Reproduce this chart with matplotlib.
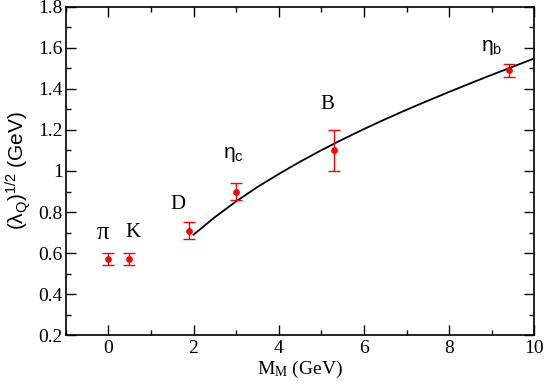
import matplotlib
matplotlib.use("Agg")
import matplotlib.pyplot as plt
from matplotlib.ticker import MultipleLocator, FuncFormatter

plt.rcParams["mathtext.fontset"] = "custom"
plt.rcParams["mathtext.rm"] = "Liberation Serif"
plt.rcParams["mathtext.it"] = "Liberation Serif:italic"
plt.rcParams["mathtext.sf"] = "Liberation Sans"
plt.rcParams["font.family"] = ["Liberation Serif", "DejaVu Sans"]

# Data
mesons = ["π", "K", "D", "ηc", "B", "ηb"]
mass = [0.0, 0.494, 1.90, 3.0, 5.30, 9.40]
lam = [0.57, 0.57, 0.71, 0.90, 1.10, 1.49]
err = [0.03, 0.03, 0.04, 0.04, 0.10, 0.03]

curve_m = [2.0, 2.5, 3.0, 3.5, 4.0, 4.5, 5.0, 5.5, 6.0, 6.5, 7.0, 7.5, 8.0, 8.5, 9.0, 9.5, 10.0]
curve_l = [0.690, 0.775, 0.852, 0.922, 0.985, 1.045, 1.101, 1.154, 1.204,
           1.252, 1.298, 1.342, 1.385, 1.427, 1.468, 1.508, 1.548]

# Label texts and positions (data coords)
lab_text = ["π", "K", "D", r"$\mathsf{η_c}$", "B", r"$\mathsf{η_b}$"]
lab_x = [-0.12, 0.58, 1.64, 2.93, 5.13, 9.0]
lab_y = [0.70, 0.70, 0.835, 1.08, 1.325, 1.60]
lab_size = [18, 15, 15, 15, 15, 15]

fig = plt.figure(figsize=(5.45, 3.82), dpi=100)
ax = fig.add_axes([0.1206, 0.1223, 0.8598, 0.8602])

ax.plot(curve_m, curve_l, color="black", lw=1.3)
ax.errorbar(mass, lam, yerr=err, fmt="o", color="#ff0000", ms=3.8,
            capsize=4.5, elinewidth=1.0, capthick=1.0)

for t, x, y, s in zip(lab_text, lab_x, lab_y, lab_size):
    ax.text(x, y, t, fontsize=s, ha="center", va="center")

ax.set_xlim(-1, 10)
ax.set_ylim(0.2, 1.8)
ax.xaxis.set_major_locator(MultipleLocator(2))
ax.xaxis.set_minor_locator(MultipleLocator(1))
ax.yaxis.set_major_locator(MultipleLocator(0.2))
ax.yaxis.set_minor_locator(MultipleLocator(0.1))
ax.yaxis.set_major_formatter(FuncFormatter(lambda v, p: f"{int(round(v))}" if abs(v - round(v)) < 1e-9 else f"{v:.1f}"))
ax.tick_params(which="both", direction="in", top=True, right=True)
ax.tick_params(which="major", length=7, width=1, labelsize=14)
ax.tick_params(which="minor", length=3.5, width=1)
ax.tick_params(axis="y", which="major", pad=2)
for sp in ax.spines.values():
    sp.set_linewidth(1.2)

ax.set_xlabel(r"M$_\mathrm{M}$ (GeV)", fontsize=14, labelpad=1)
ax.set_ylabel(r"$\mathsf{(λ_Q)^{1/2}\ (GeV)}$", fontsize=15, labelpad=4)

fig.savefig("out.png", dpi=100)
